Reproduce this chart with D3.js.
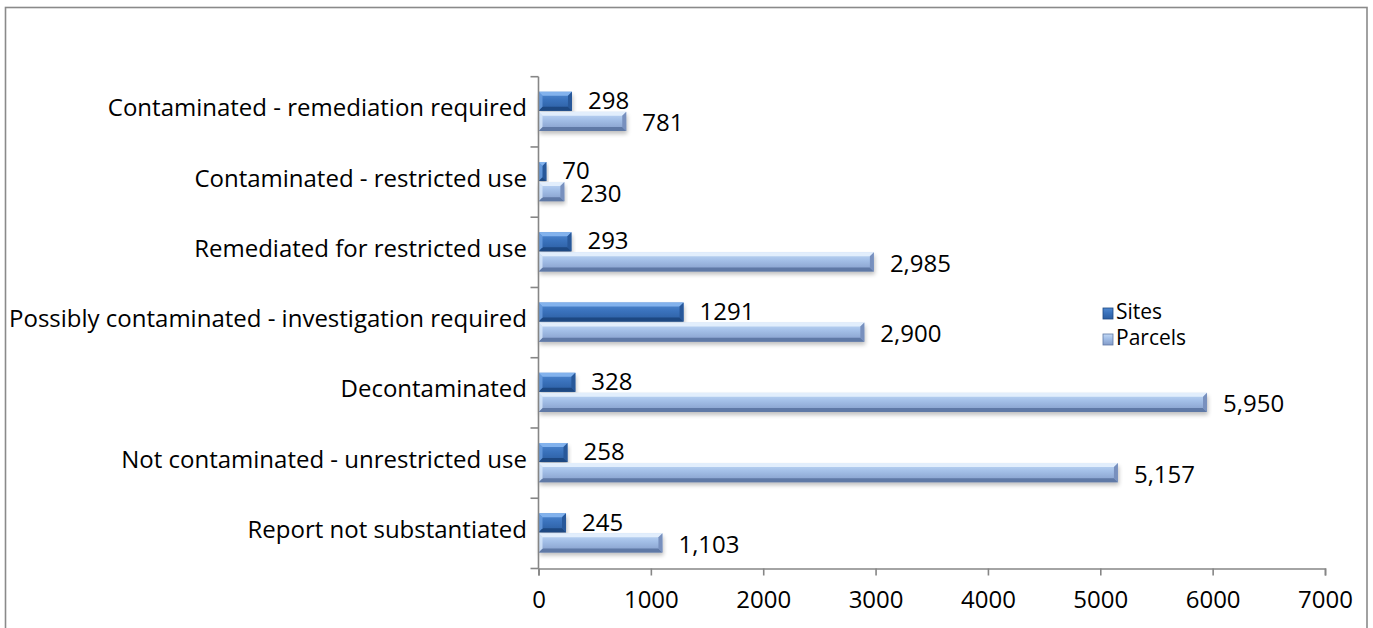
<!DOCTYPE html>
<html>
<head>
<meta charset="utf-8">
<script src="https://cdn.jsdelivr.net/npm/d3@7"></script>
<style>
  html, body { margin: 0; padding: 0; background: #fff; }
  svg { display: block; font-family: "Open Sans", Lato, sans-serif; }
</style>
</head>
<body>
<svg id="chart" width="1373" height="628"></svg>
<script>
// Site status categories, listed top to bottom
const categories = [
  "Contaminated - remediation required",
  "Contaminated - restricted use",
  "Remediated for restricted use",
  "Possibly contaminated - investigation required",
  "Decontaminated",
  "Not contaminated - unrestricted use",
  "Report not substantiated"
];
const seriesNames = ["Sites", "Parcels"];
const sitesValues   = [298, 70, 293, 1291, 328, 258, 245];
const parcelsValues = [781, 230, 2985, 2900, 5950, 5157, 1103];
const xTicks = [0, 1000, 2000, 3000, 4000, 5000, 6000, 7000];

const svg = d3.select("#chart");
const plot = { left: 538.5, right: 1325, top: 76.7, bottom: 568.5 };
const FONT = 24;

// Outer chart frame
svg.append("rect")
  .attr("x", 5.5).attr("y", 7.5)
  .attr("width", 1361.5).attr("height", 640)
  .attr("fill", "#fff").attr("stroke", "#8a8a8a").attr("stroke-width", 1.6);

const defs = svg.append("defs");
const shadow = defs.append("filter").attr("id", "barShadow")
  .attr("x", "-10%").attr("y", "-50%").attr("width", "120%").attr("height", "200%");
shadow.append("feGaussianBlur").attr("stdDeviation", 2);

function grad(id, stops) {
  const g = defs.append("linearGradient").attr("id", id)
    .attr("x1", 0).attr("y1", 0).attr("x2", 0).attr("y2", 1);
  stops.forEach(([o, c]) => g.append("stop").attr("offset", o).attr("stop-color", c));
}
grad("gSites", [[0, "#5189d0"], [0.45, "#3a72bc"], [1, "#2b5da0"]]);
grad("gParcels", [[0, "#c3d9f5"], [0.4, "#a4c0e8"], [1, "#839cc9"]]);

const styles = {
  Sites:   { fill: "url(#gSites)",   top: "#82b2ed", bottom: "#1d4882", end: "#28589a", hi: "#6c9fe0", dy: "0.30em" },
  Parcels: { fill: "url(#gParcels)", top: "#e2eefc", bottom: "#5f79a6", end: "#7890be", hi: "#d8e8fb", dy: "0.40em" }
};

const x = d3.scaleLinear().domain([0, 7000]).range([plot.left, plot.right]);
const y = d3.scaleBand().domain(categories).range([plot.top, plot.bottom]).paddingInner(0).paddingOuter(0);
const ySub = d3.scaleBand().domain(seriesNames).range([0, y.bandwidth()])
  .paddingInner(0).paddingOuter(0.75);

const rows = categories.map((c, i) => ({
  category: c,
  values: [
    { series: "Sites", value: sitesValues[i], label: d3.format("d")(sitesValues[i]) },
    { series: "Parcels", value: parcelsValues[i], label: d3.format(",")(parcelsValues[i]) }
  ]
}));

const bh = ySub.bandwidth();
const bev = 4;

const groups = svg.append("g").selectAll("g.cat").data(rows).join("g")
  .attr("class", "cat")
  .attr("transform", d => `translate(0,${y(d.category)})`);

const bars = groups.selectAll("g.bar").data(d => d.values).join("g").attr("class", "bar");

// soft drop shadow under each bar
bars.append("rect")
  .attr("x", x(0) + 1)
  .attr("y", d => ySub(d.series) + 3)
  .attr("width", d => x(d.value) - x(0))
  .attr("height", bh - 1)
  .attr("fill", "#000").attr("opacity", 0.25)
  .attr("filter", "url(#barShadow)");

// bar body
bars.append("rect")
  .attr("x", x(0))
  .attr("y", d => ySub(d.series))
  .attr("width", d => x(d.value) - x(0))
  .attr("height", bh - 1)
  .attr("fill", d => styles[d.series].fill);

// bevelled edges: top, bottom, both ends
function bevelPaths(d) {
  const x0 = x(0), x1 = x(d.value), y0 = ySub(d.series), y1 = y0 + bh - 1;
  const b = Math.min(bev, (x1 - x0) / 2);
  return {
    top: [[x0, y0], [x1, y0], [x1 - b, y0 + b], [x0 + b, y0 + b]],
    bottom: [[x0, y1], [x1, y1], [x1 - b, y1 - b], [x0 + b, y1 - b]],
    end: [[x1, y0], [x1, y1], [x1 - b, y1 - b], [x1 - b, y0 + b]],
    start: [[x0, y0], [x0 + b, y0 + b], [x0 + b, y1 - b], [x0, y1]]
  };
}
const line = d3.line();
bars.append("path").attr("d", d => line(bevelPaths(d).top) + "Z").attr("fill", d => styles[d.series].top);
bars.append("path").attr("d", d => line(bevelPaths(d).bottom) + "Z").attr("fill", d => styles[d.series].bottom);
bars.append("path").attr("d", d => line(bevelPaths(d).end) + "Z").attr("fill", d => styles[d.series].end);
bars.append("path").attr("d", d => line(bevelPaths(d).start) + "Z").attr("fill", d => styles[d.series].hi).attr("opacity", 0.8);

// value labels
bars.append("text")
  .attr("x", d => x(d.value) + 16)
  .attr("y", d => ySub(d.series) + bh / 2)
  .attr("dy", d => styles[d.series].dy)
  .attr("font-size", FONT)
  .attr("fill", "#000")
  .text(d => d.label);

// y axis (category boundaries ticked outward)
const yAxisG = svg.append("g");
yAxisG.append("line")
  .attr("x1", plot.left).attr("x2", plot.left)
  .attr("y1", plot.top).attr("y2", plot.bottom)
  .attr("stroke", "#868686").attr("stroke-width", 1.6);
const boundaries = categories.map(c => y(c)).concat([plot.bottom]);
yAxisG.selectAll("line.tk").data(boundaries).join("line").attr("class", "tk")
  .attr("x1", plot.left - 8).attr("x2", plot.left)
  .attr("y1", d => d).attr("y2", d => d)
  .attr("stroke", "#868686").attr("stroke-width", 1.6);
yAxisG.selectAll("text").data(categories).join("text")
  .attr("x", 527)
  .attr("y", d => y(d) + y.bandwidth() / 2 - 4)
  .attr("dy", "0.36em")
  .attr("text-anchor", "end")
  .attr("font-size", FONT)
  .attr("fill", "#000")
  .text(d => d);

// x axis
const xAxis = d3.axisBottom(x).tickValues(xTicks).tickFormat(d3.format("d")).tickSize(7).tickPadding(15);
const xg = svg.append("g").attr("transform", `translate(0,${plot.bottom})`).call(xAxis);
xg.select(".domain").attr("stroke", "#868686").attr("stroke-width", 1.6);
xg.selectAll(".tick line").attr("stroke", "#868686").attr("stroke-width", 1.6);
xg.selectAll(".tick text").attr("font-size", FONT).attr("fill", "#000")
  .attr("font-family", "'Open Sans', Lato, sans-serif");

// legend
const legend = svg.append("g").attr("transform", "translate(1103,300)");
const li = legend.selectAll("g").data(seriesNames).join("g")
  .attr("transform", (d, i) => `translate(0,${i * 26})`);
li.append("rect").attr("x", 0).attr("y", 8).attr("width", 10).attr("height", 11)
  .attr("fill", d => d === "Sites" ? "url(#gSites)" : "url(#gParcels)")
  .attr("stroke", d => styles[d].bottom).attr("stroke-width", 0.8);
li.append("text").attr("x", 13).attr("y", 19)
  .attr("font-size", 21).attr("fill", "#000")
  .text(d => d);
</script>
</body>
</html>
